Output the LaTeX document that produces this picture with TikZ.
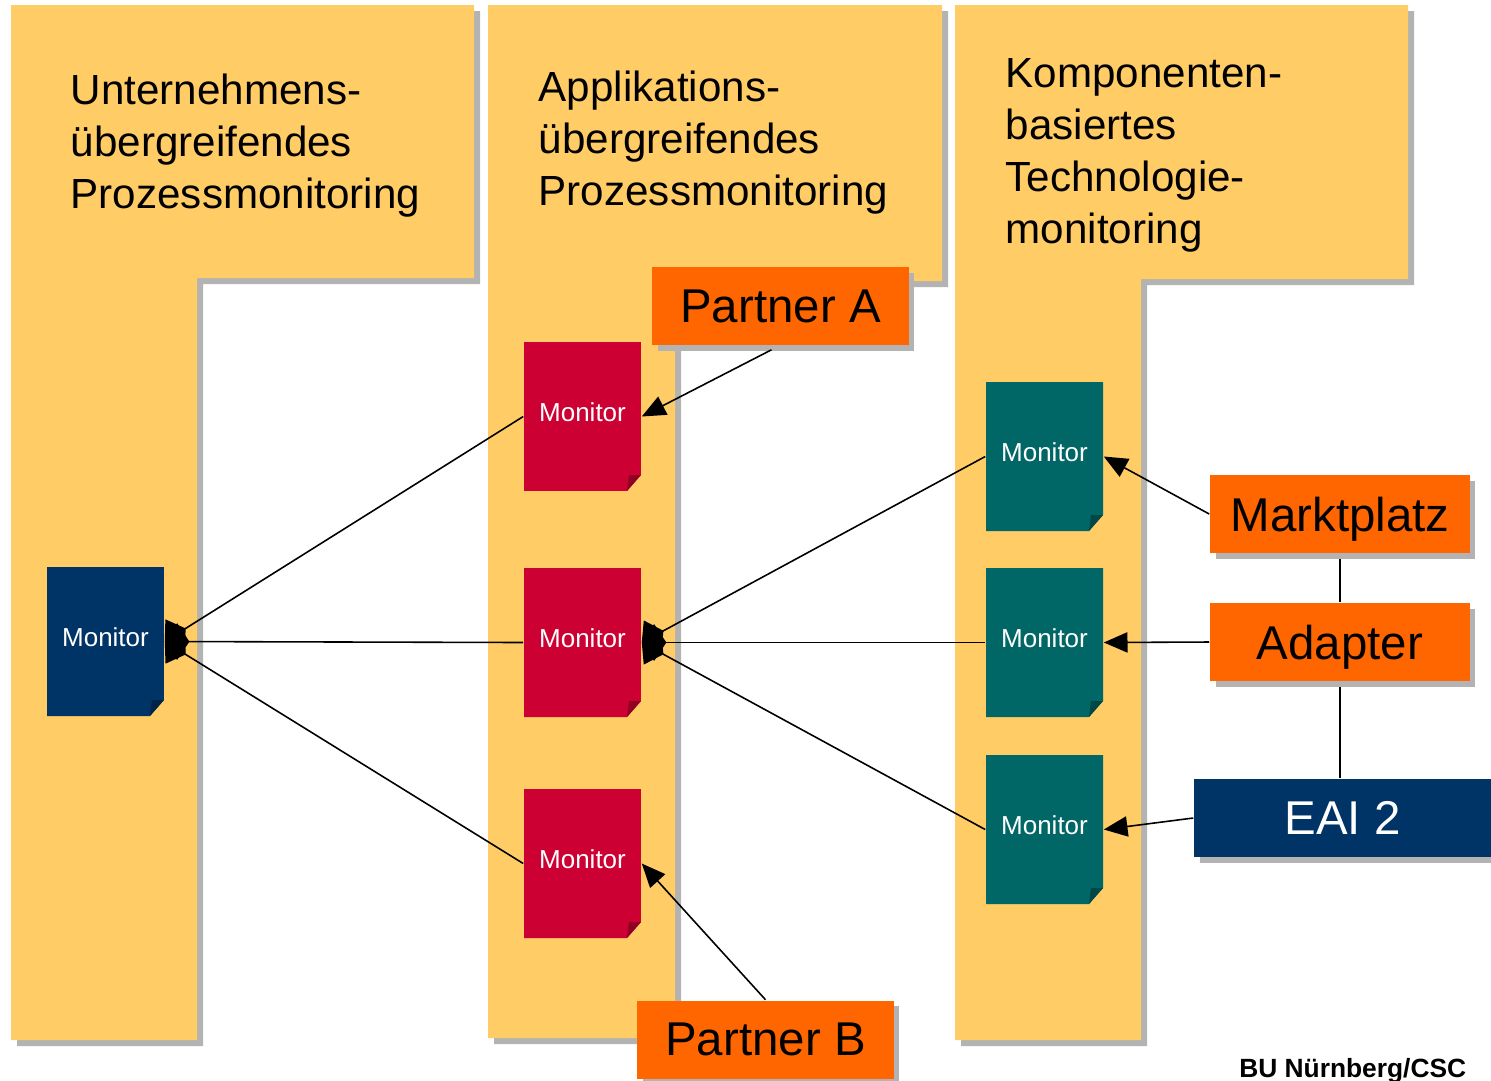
\documentclass[tikz,border=0pt]{standalone}
\usepackage{fontspec}
\setmainfont{Liberation Sans}
\usetikzlibrary{arrows.meta, shadows}
\definecolor{colyellow}{RGB}{255,204,102}
\definecolor{shadegray}{RGB}{179,179,179}
\definecolor{boxorange}{RGB}{255,102,0}
\definecolor{monred}{RGB}{204,0,51}
\definecolor{monteal}{RGB}{0,102,102}
\definecolor{navy}{RGB}{0,51,102}

\begin{document}
\begin{tikzpicture}[x=0.02cm, y=-0.02cm, >={Triangle[length=13.5pt,width=11.5pt]}, line width=0.9pt,
    dia/.style={{Diamond[length=14pt,width=21pt]}-},
    title/.style={anchor=north west, inner sep=0pt, align=left, font=\fontsize{24}{29.6}\selectfont},
    monitor/.style={minimum width=2.34cm, minimum height=2.98cm, inner sep=0pt, text=white,
        text depth=0.5em, font=\fontsize{14.8}{17}\selectfont,
        path picture={
            \fill[#1] (path picture bounding box.north west) -- (path picture bounding box.north east)
                -- ([yshift=0.32cm]path picture bounding box.south east)
                -- ([xshift=-0.28cm]path picture bounding box.south east)
                -- (path picture bounding box.south west) -- cycle;
            \fill[#1!70!black] ([yshift=0.32cm]path picture bounding box.south east)
                -- ([xshift=-0.28cm]path picture bounding box.south east)
                -- ([xshift=-0.24cm,yshift=0.32cm]path picture bounding box.south east) -- cycle;
        }},
    box/.style={fill=#1, minimum width=5.14cm, minimum height=1.56cm, inner sep=0pt,
        text depth=0pt, font=\fontsize{27}{32}\selectfont,
        drop shadow={shadow xshift=0.11cm, shadow yshift=-0.11cm, opacity=1, fill=shadegray}}]

    \useasboundingbox (0,0) rectangle (1491,1080);

    \foreach \l/\r/\s/\t/\b in {11/474/197/278/1040, 488/942/675/281/1038, 955/1408/1141/279/1040}{
        \fill[shadegray, shift={(6,6)}] (\l,5) -- (\r,5) -- (\r,\t) -- (\s,\t) -- (\s,\b) -- (\l,\b) -- cycle;
        \fill[colyellow] (\l,5) -- (\r,5) -- (\r,\t) -- (\s,\t) -- (\s,\b) -- (\l,\b) -- cycle;
    }

    \node[title] (t1) at (70,73) {Unternehmens-\\übergreifendes\\Prozessmonitoring};
    \node[title] (t2) at (538,70) {Applikations-\\übergreifendes\\Prozessmonitoring};
    \node[title] (t3) at (1005,58) {Komponenten-\\basiertes\\Technologie-\\monitoring};

    \node[monitor=navy] (m0) at (105.5,641.5) {Monitor};
    \node[monitor=monred] (r1) at (582.5,416.5) {Monitor};
    \node[monitor=monred] (r2) at (582.5,642.5) {Monitor};
    \node[monitor=monred] (r3) at (582.5,863.5) {Monitor};
    \node[monitor=monteal] (k1) at (1044.5,456.5) {Monitor};
    \node[monitor=monteal] (k2) at (1044.5,642.5) {Monitor};
    \node[monitor=monteal] (k3) at (1044.5,829.5) {Monitor};

    \node[box=boxorange] (pa) at (780.5,306) {Partner A};
    \node[box=boxorange] (pb) at (765.5,1039.5) {Partner B};
    \node[box=boxorange, minimum width=5.2cm] (mp) at (1340,514) {Marktplatz};
    \node[box=boxorange, minimum width=5.2cm] (ad) at (1340,642) {Adapter};
    \node[box=navy, minimum width=5.94cm, text=white] (eai) at (1342.5,818) {EAI 2};

    \node[anchor=base east, inner sep=0pt, font=\fontsize{15}{18}\selectfont\bfseries] (bu) at (1467,1077) {BU Nürnberg/CSC};

    \path
    (m0.east) edge[dia] (r1.west)
              edge[dia] (r2.west)
              edge[dia] (r3.west)
    (r2.east) edge[dia] (k1.west)
              edge[dia] (k2.west)
              edge[dia] (k3.west)
    ([xshift=-0.18cm,yshift=-0.08cm]pa.south) edge[->] (r1.east)
    (pb.north) edge[->] (r3.east)
    (mp.west) edge[->] (k1.east)
    (ad.west) edge[->] (k2.east)
    (eai.west) edge[->] (k3.east)
    ([yshift=-0.11cm]mp.south) edge (ad.north)
    ([yshift=-0.11cm]ad.south) edge (ad.south |- eai.north)
    ;
\end{tikzpicture}
\end{document}
